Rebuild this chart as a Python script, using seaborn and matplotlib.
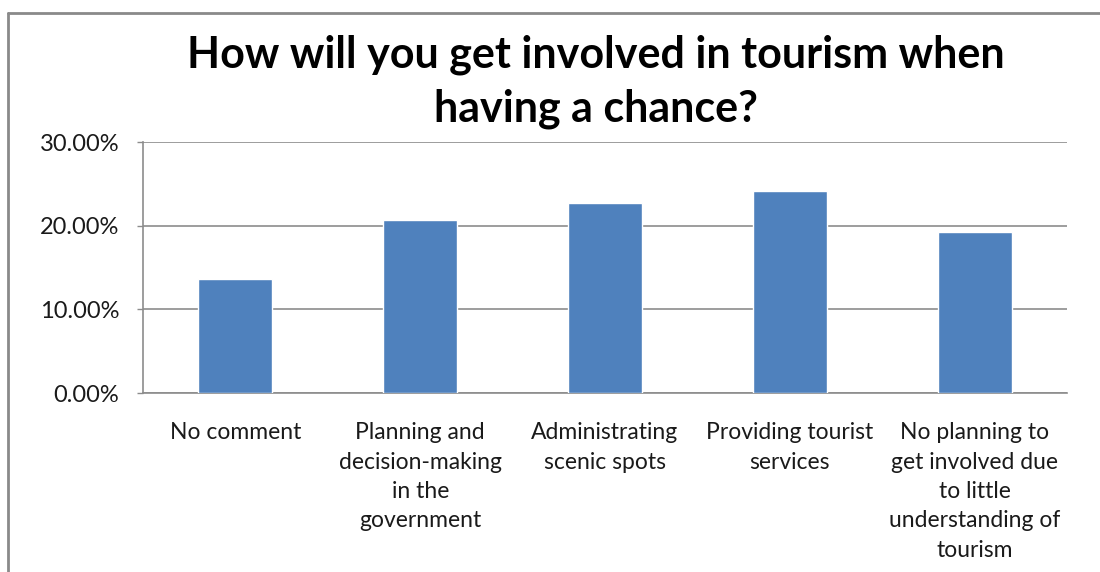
import matplotlib
matplotlib.use("Agg")
import matplotlib.pyplot as plt
from matplotlib.lines import Line2D
from matplotlib.ticker import FuncFormatter
import seaborn as sns
import pandas as pd

# Survey responses: share of respondents per type of involvement
categories = [
    "No comment",
    "Planning and\ndecision-making\nin the\ngovernment",
    "Administrating\nscenic spots",
    "Providing tourist\nservices",
    "No planning to\nget involved due\nto little\nunderstanding of\ntourism",
]
shares = [13.6, 20.7, 22.7, 24.1, 19.3]
y_ticks = [0, 10, 20, 30]

title = "How will you get involved in tourism when\nhaving a chance?"

sns.set_theme(style="white")
plt.rcParams["font.family"] = ["Lato", "DejaVu Sans"]

df = pd.DataFrame({"category": categories, "share": shares})

fig = plt.figure(figsize=(11, 5.72), dpi=100)
ax = fig.add_axes([0.130, 0.3129, 0.840, 0.4388])

sns.barplot(data=df, x="category", y="share", color="#4F81BD",
            width=0.4, saturation=1, ax=ax, zorder=3)

ax.set_ylim(0, 30)
ax.set_xlim(-0.5, len(categories) - 0.5)
ax.set_yticks(y_ticks)
ax.yaxis.set_major_formatter(FuncFormatter(lambda v, _: f"{v:.2f}%"))
ax.grid(axis="y", color="#8c8c8c", linewidth=1.2, zorder=0)
ax.set_axisbelow(True)

for side in ("top", "right"):
    ax.spines[side].set_visible(False)
for side in ("left", "bottom"):
    ax.spines[side].set_color("#8c8c8c")
    ax.spines[side].set_linewidth(1.2)

ax.tick_params(axis="y", labelsize=17, colors="#8c8c8c", labelcolor="#1a1a1a",
               length=4, width=1.0, direction="out", pad=13, left=True)
ax.tick_params(axis="x", labelsize=16.5, labelcolor="#1a1a1a", length=0, pad=21)
for lbl in ax.get_xticklabels():
    lbl.set_linespacing(1.49)
    lbl.set_va("top")

ax.set_xlabel("")
ax.set_ylabel("")

fig.text(0.542, 0.940, title, ha="center", va="top", fontsize=31,
         fontweight="bold", linespacing=1.41, color="black")

# Outer chart frame (top and left edges)
fig.add_artist(Line2D([8 / 1100, 1.0], [1 - 13 / 572, 1 - 13 / 572],
                      transform=fig.transFigure, color="#8a8a8a", linewidth=2))
fig.add_artist(Line2D([8 / 1100, 8 / 1100], [0.0, 1 - 13 / 572],
                      transform=fig.transFigure, color="#8a8a8a", linewidth=2))

fig.savefig("out.png", dpi=100, facecolor="white")
